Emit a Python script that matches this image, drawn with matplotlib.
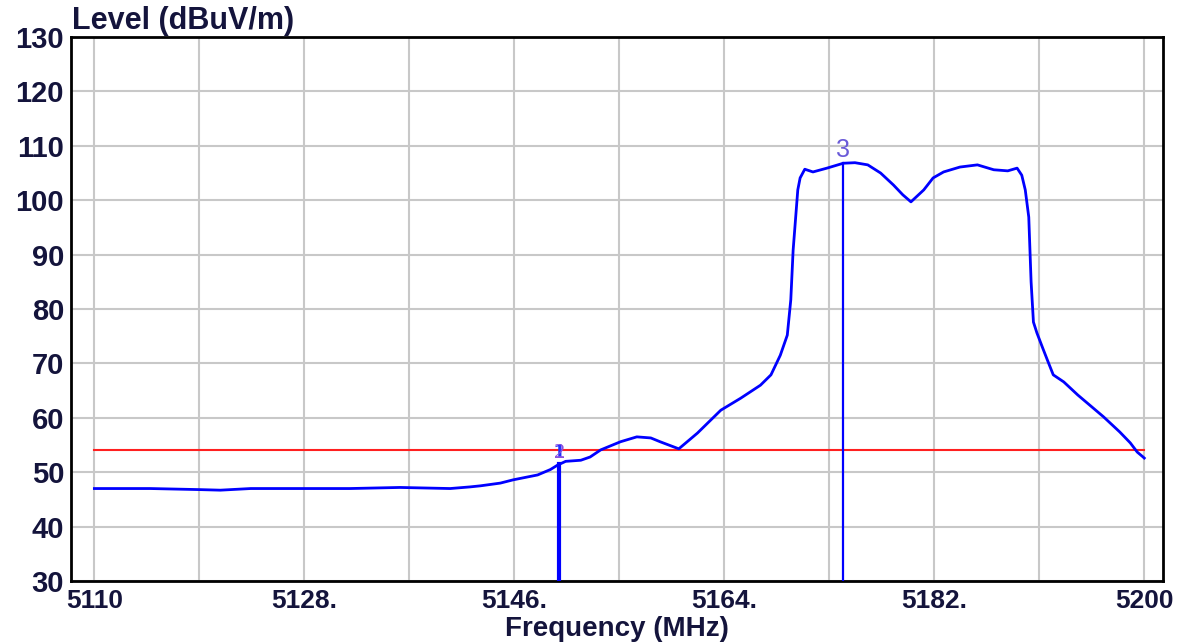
import numpy as np
import matplotlib
matplotlib.use("Agg")
import matplotlib.pyplot as plt

# trace (MHz, dBuV/m)
freq = [5110.0, 5114.8, 5119.1, 5120.8, 5123.4, 5131.9, 5136.2, 5140.5, 5142.2, 5143.1,
        5144.8, 5145.9, 5148.0, 5149.1, 5149.7, 5150.4, 5151.7, 5152.5, 5153.4, 5155.1,
        5156.5, 5157.7, 5158.5, 5160.1, 5161.7, 5163.7, 5165.4, 5167.1, 5168.0, 5168.8,
        5169.4, 5169.7, 5169.9, 5170.3, 5170.5, 5170.9, 5171.6, 5172.8, 5174.2, 5175.2,
        5176.3, 5177.4, 5178.5, 5179.3, 5180.0, 5181.1, 5181.9, 5182.8, 5184.2, 5185.7,
        5187.1, 5188.3, 5189.1, 5189.5, 5189.8, 5190.1, 5190.3, 5190.5, 5190.8, 5191.3,
        5191.7, 5192.2, 5193.1, 5194.3, 5195.4, 5196.5, 5197.9, 5198.8, 5199.4, 5199.9,
        5200.0]
level = [47.0, 47.0, 46.8, 46.7, 47.0, 47.0, 47.2, 47.0, 47.3, 47.5,
         48.0, 48.6, 49.5, 50.5, 51.3, 52.0, 52.2, 52.8, 54.1, 55.6,
         56.5, 56.3, 55.6, 54.3, 57.2, 61.4, 63.6, 66.0, 67.9, 71.5,
         75.2, 81.7, 90.8, 101.9, 104.1, 105.7, 105.2, 105.9, 106.8, 106.9,
         106.5, 105.0, 102.8, 101.0, 99.7, 101.9, 104.1, 105.2, 106.1, 106.5,
         105.6, 105.4, 105.9, 104.6, 101.9, 96.9, 85.0, 77.6, 75.6, 72.8,
         70.6, 67.9, 66.6, 64.2, 62.2, 60.2, 57.4, 55.4, 53.7, 52.8,
         52.6]

limit_level = 54.0
limit_span = [5110, 5200]

marker_freq = [5149.8, 5174.2]
marker_level = [51.5, 106.8]
marker_width = [3.0, 1.6]

xgrid = np.arange(5110, 5201, 9)
xlabels = ["5110", "", "5128.", "", "5146.", "", "5164.", "", "5182.", "", "5200"]
yticks = np.arange(30, 131, 10)

txt = "#14143c"
plt.rcParams['font.family'] = ['Liberation Sans', 'DejaVu Sans']

fig = plt.figure(figsize=(11.92, 6.43), dpi=100)
ax = fig.add_axes([0.0596, 0.0964, 0.916, 0.846])

ax.plot(freq, level, color="#0000ff", lw=2, zorder=4)
ax.plot(limit_span, [limit_level, limit_level], color="#ff2020", lw=1.5, zorder=3)

for f, lv, w in zip(marker_freq, marker_level, marker_width):
    ax.plot([f, f], [30, lv], color="#0000ff", lw=w, zorder=4)

ax.text(marker_freq[0], 52.6, "1", color="#2030ff", fontsize=16, ha="center",
        family=["Liberation Serif"], fontweight="bold", zorder=5)
ax.text(marker_freq[0] + 0.1, 52.6, "2", color="#8a50e0", fontsize=16, ha="center",
        family=["Liberation Serif"], zorder=5)
ax.text(marker_freq[1], 107.9, "3", color="#6a5ad8", fontsize=18, ha="center", zorder=5)

ax.set_xlim(5108.0, 5201.6)
ax.set_ylim(30, 130)
ax.set_xticks(xgrid)
ax.set_xticklabels(xlabels)
ax.set_yticks(yticks)
ax.grid(True, color="#c8c8c8", lw=1.5)
ax.set_axisbelow(True)
ax.tick_params(length=0, labelsize=19, labelcolor=txt)
ax.tick_params(axis="y", labelsize=21, pad=5)
ax.tick_params(axis="x", pad=6)
for lab in ax.get_xticklabels() + ax.get_yticklabels():
    lab.set_fontweight("bold")
for sp in ax.spines.values():
    sp.set_color("black")
    sp.set_linewidth(2)

fig.text(0.5176, 0.002, "Frequency (MHz)", fontsize=20, fontweight="bold", color=txt,
         ha="center", va="bottom")
fig.text(0.0604, 0.955, "Level (dBuV/m)", fontsize=22, fontweight="bold", color=txt,
         ha="left", va="baseline")

fig.savefig("out.png", dpi=100)
